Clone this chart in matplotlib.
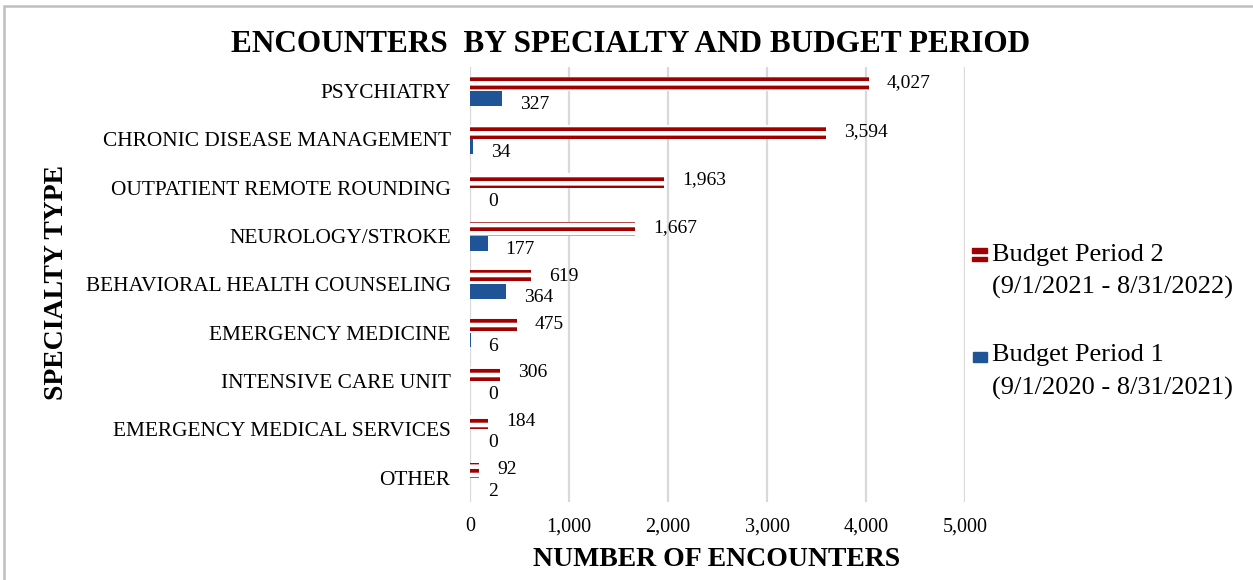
import matplotlib
matplotlib.use("Agg")
import matplotlib.pyplot as plt
from matplotlib.patches import Rectangle
import numpy as np

categories = ["PSYCHIATRY", "CHRONIC DISEASE MANAGEMENT", "OUTPATIENT REMOTE ROUNDING",
              "NEUROLOGY/STROKE", "BEHAVIORAL HEALTH COUNSELING", "EMERGENCY MEDICINE",
              "INTENSIVE CARE UNIT", "EMERGENCY MEDICAL SERVICES", "OTHER"]
bp2 = [4027, 3594, 1963, 1667, 619, 475, 306, 184, 92]
bp1 = [327, 34, 0, 177, 364, 6, 0, 0, 2]
xticks = [0, 1000, 2000, 3000, 4000, 5000]
xticklabels = ["0", "1,000", "2,000", "3,000", "4,000", "5,000"]
label_bp2 = ["Budget Period 2", "(9/1/2021 - 8/31/2022)"]
label_bp1 = ["Budget Period 1", "(9/1/2020 - 8/31/2021)"]

RED = "#A00000"
BLUE = "#1F5596"
GRID = "#D9D9D9"

plt.rcParams["font.family"] = ["Liberation Serif", "DejaVu Serif"]
plt.rcParams["hatch.linewidth"] = 2.7
plt.rcParams["hatch.color"] = RED

W, H = 1253, 580
fig = plt.figure(figsize=(W / 100, H / 100), dpi=100)


def fx(x):
    return x / W


def fy(y):
    return 1 - y / H


# outer chart border (gray)
fig.patches.append(Rectangle((fx(3.5), fy(640)), fx(1300), fy(5.5) - fy(640),
                             transform=fig.transFigure, fill=False,
                             edgecolor="#BFBFBF", linewidth=1.8))

ax = fig.add_axes([fx(470), fy(502), fx(965) - fx(470), fy(67) - fy(502)])
y = np.arange(len(categories))
h = 0.3
ax.barh(y - h / 2, bp2, height=h, facecolor="white", edgecolor=RED,
        hatch="--", linewidth=0, zorder=3)
ax.barh(y + h / 2, bp1, height=h, color=BLUE, zorder=3, linewidth=0)

for yi, v in zip(y, bp2):
    ax.annotate(f"{v:,}", (v, yi - h / 2), xytext=(18, 1), textcoords="offset pixels",
                ha="left", va="center", fontsize=14, color="#000000")
for yi, v in zip(y, bp1):
    ax.annotate(f"{v:,}", (v, yi + h / 2), xytext=(18, -6), textcoords="offset pixels",
                ha="left", va="center", fontsize=14, color="#000000")

ax.set_xlim(0, 5000)
ax.set_ylim(len(categories) - 0.5, -0.5)
ax.set_xticks(xticks)
ax.set_xticklabels(xticklabels, fontsize=14.5)
ax.set_yticks(y)
ax.set_yticklabels(categories, fontsize=15.4)
ax.tick_params(axis="both", length=0)
ax.tick_params(axis="y", pad=14)
ax.tick_params(axis="x", pad=11)
ax.grid(axis="x", color=GRID, linewidth=1.6, zorder=0)
ax.set_axisbelow(True)
for s in ax.spines.values():
    s.set_visible(False)

fig.text(fx(631), fy(45), "ENCOUNTERS  BY SPECIALTY AND BUDGET PERIOD", ha="center",
         va="center", fontsize=22.5, fontweight="bold")
fig.text(fx(717), fy(560), "NUMBER OF ENCOUNTERS", ha="center", va="center",
         fontsize=20, fontweight="bold")
fig.text(fx(57), fy(283), "SPECIALTY TYPE", ha="center", va="center",
         rotation=90, fontsize=20, fontweight="bold")

# legend (manual)
fig.patches.append(Rectangle((fx(972), fy(252.5)), fx(15), fy(248) - fy(252.5),
                             transform=fig.transFigure, color=RED))
fig.patches.append(Rectangle((fx(972), fy(261)), fx(15), fy(256.5) - fy(261),
                             transform=fig.transFigure, color=RED))
fig.patches.append(Rectangle((fx(973), fy(362)), fx(14), fy(352) - fy(362),
                             transform=fig.transFigure, color=BLUE))
fig.text(fx(992), fy(255), label_bp2[0], ha="left", va="center", fontsize=19)
fig.text(fx(992), fy(287), label_bp2[1], ha="left", va="center", fontsize=19)
fig.text(fx(992), fy(355), label_bp1[0], ha="left", va="center", fontsize=19)
fig.text(fx(992), fy(388), label_bp1[1], ha="left", va="center", fontsize=19)

fig.savefig("out.png", dpi=100)
